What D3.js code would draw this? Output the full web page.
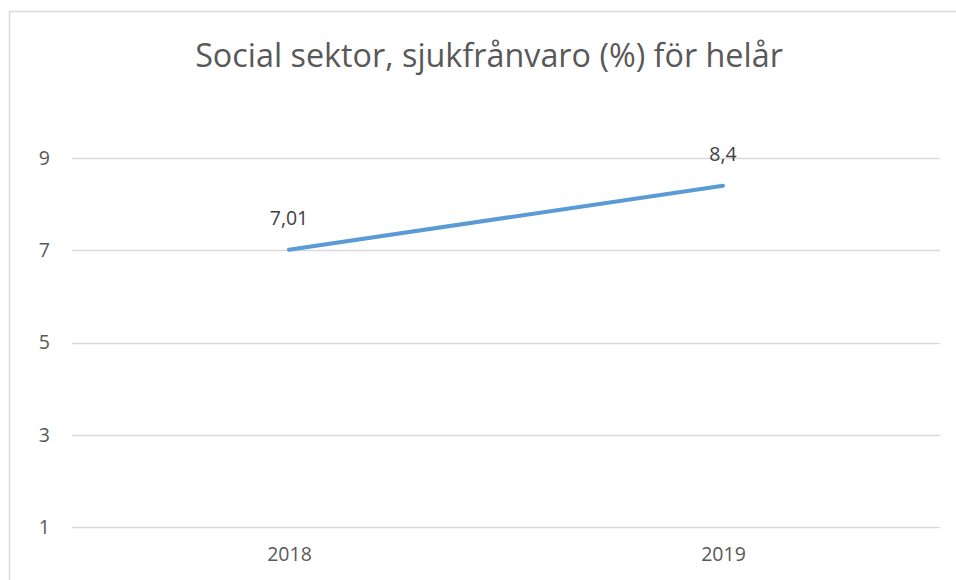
<!DOCTYPE html>
<html>
<head>
<meta charset="utf-8">
<script src="https://cdn.jsdelivr.net/npm/d3@7"></script>
<style>
  html, body { margin: 0; padding: 0; background: #fff; }
  svg { display: block; }
</style>
</head>
<body>
<svg id="chart"></svg>
<script>
// Data.
const years = ['2018', '2019'];
const values = [7.01, 8.4];
const valueLabels = ['7,01', '8,4'];
const yTicks = [1, 3, 5, 7, 9];
const title = 'Social sektor, sjukfrånvaro (%) för helår';

const width = 956, height = 580;
const font = '"Open Sans", "Noto Sans", sans-serif';
const textColor = '#595959';

const svg = d3.select('#chart').attr('width', width).attr('height', height);

// Chart area border (right and bottom fall outside the picture).
svg.append('rect')
  .attr('x', 9.5).attr('y', 11.5)
  .attr('width', width + 10).attr('height', height + 10)
  .attr('fill', '#fff')
  .attr('stroke', '#d9d9d9')
  .attr('stroke-width', 1.5);

// Scales.
const x = d3.scalePoint().domain(years).range([72, 940]).padding(0.5);
const y = d3.scaleLinear().domain([1, 9]).range([527, 158]);

// Title.
const titleText = svg.append('text')
  .attr('x', 489).attr('y', 67)
  .attr('text-anchor', 'middle')
  .attr('font-family', font)
  .attr('font-size', 26)
  .attr('fill', textColor)
  .text(title);
// Fit the title to the width seen in the reference.
const tw = titleText.node().getComputedTextLength();
titleText.attr('font-size', 26 * 588 / tw);

// Gridlines.
svg.append('g')
  .selectAll('line')
  .data(yTicks)
  .join('line')
  .attr('x1', 72).attr('x2', 940)
  .attr('y1', d => Math.round(y(d)) + 0.5)
  .attr('y2', d => Math.round(y(d)) + 0.5)
  .attr('stroke', '#d9d9d9')
  .attr('stroke-width', 1.5);

// Y-Axis.
const yAxis = svg.append('g')
  .attr('transform', 'translate(72,0)')
  .call(d3.axisLeft(y).tickValues(yTicks).tickSize(0).tickPadding(22));
yAxis.select('.domain').remove();
yAxis.selectAll('text')
  .attr('font-family', font)
  .attr('font-size', 19.5)
  .attr('fill', textColor);

// X-Axis.
const xAxis = svg.append('g')
  .attr('transform', 'translate(0,527)')
  .call(d3.axisBottom(x).tickSize(0).tickPadding(20));
xAxis.select('.domain').remove();
xAxis.selectAll('text')
  .attr('font-family', font)
  .attr('font-size', 19.5)
  .attr('fill', textColor);

// Line.
svg.append('path')
  .datum(values)
  .attr('fill', 'none')
  .attr('stroke', '#5b9bd5')
  .attr('stroke-width', 4)
  .attr('stroke-linecap', 'round')
  .attr('d', d3.line().x((d, i) => x(years[i])).y(d => y(d)));

// Data labels.
svg.append('g')
  .selectAll('text')
  .data(values)
  .join('text')
  .attr('x', (d, i) => x(years[i]))
  .attr('y', d => y(d) - 25)
  .attr('text-anchor', 'middle')
  .attr('font-family', font)
  .attr('font-size', 19.5)
  .attr('fill', '#404040')
  .text((d, i) => valueLabels[i]);
</script>
</body>
</html>
